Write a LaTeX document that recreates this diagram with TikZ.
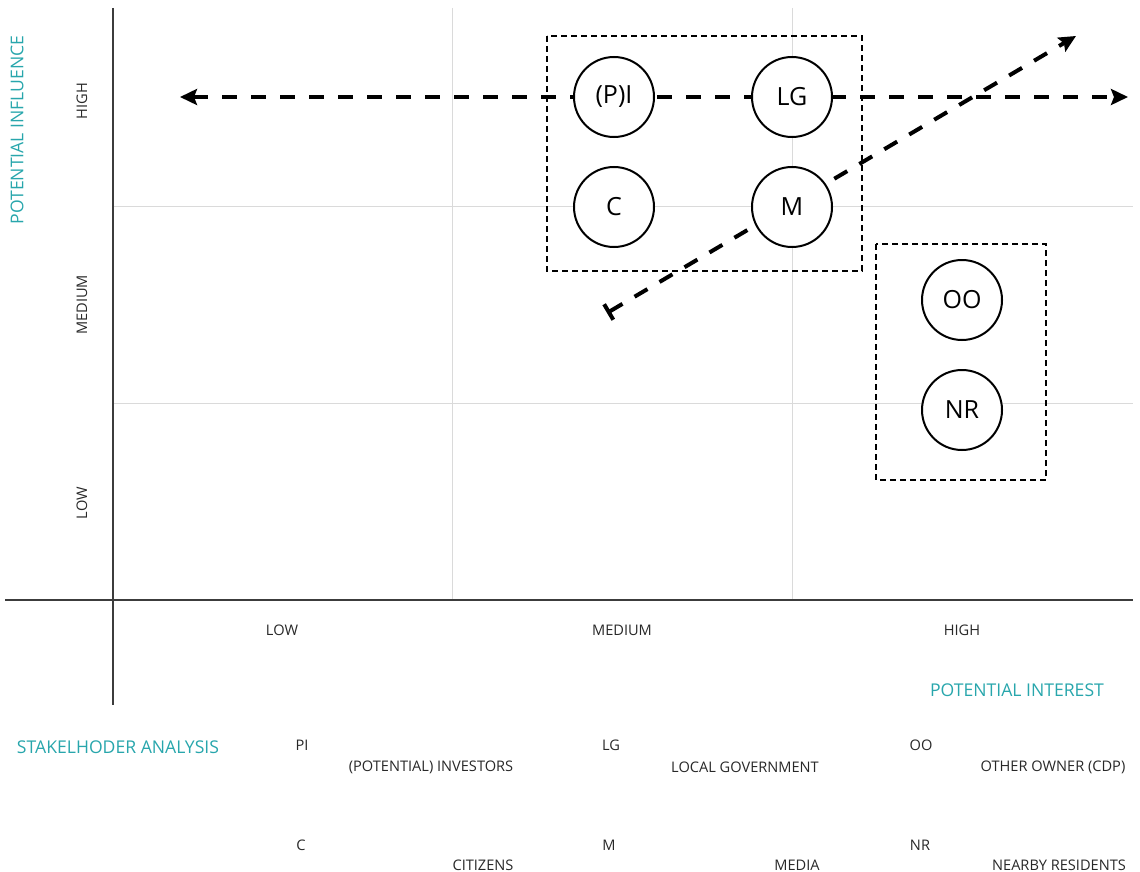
\documentclass[tikz,border=0pt]{standalone}
\usepackage{fontspec}
\setmainfont{Open Sans}
\usepackage{xcolor}
\usepackage{tikz}
\definecolor{axisgray}{RGB}{60, 60, 60}
\definecolor{gridgray}{RGB}{218, 218, 218}
\definecolor{tealtext}{RGB}{40, 166, 172}
\definecolor{textgray}{RGB}{40, 40, 40}
\usetikzlibrary{arrows.meta,positioning}

\begin{document}
\begin{tikzpicture}[
    x=0.5pt, y=-0.5pt,
    stake/.style={
        circle,
        draw=black,
        fill=white,
        line width=1pt,
        minimum size=40pt,
        inner sep=0pt,
        font=\fontsize{12.5}{14}\selectfont
    },
    level/.style={font=\fontsize{7.3}{8}\selectfont, text=textgray},
    title/.style={font=\fontsize{8.8}{10}\selectfont, text=tealtext},
    group/.style={draw=black, line width=1.1pt, dash pattern=on 3pt off 2pt},
    tip/.style={-{Stealth[length=8.5pt,width=8pt,inset=1.5pt]}},
    arrow/.style={line width=2pt, dash pattern=on 7.5pt off 7pt},
    grid line/.style={draw=gridgray, line width=0.5pt}
]
    \useasboundingbox (0,0) rectangle (1140,872);
    % Grid
    \draw[grid line] (452,8) -- (452,600);
    \draw[grid line] (792,8) -- (792,600);
    \draw[grid line] (113,206) -- (1133,206);
    \draw[grid line] (113,403) -- (1133,403);
    % Axes
    \draw[axisgray, line width=1pt] (113,8) -- (113,705);
    \draw[axisgray, line width=1pt] (5,600) -- (1133,600);

    % Axis labels
    \node[title, rotate=90] (influence) at (17,130) {POTENTIAL INFLUENCE};
    \node[level, rotate=90] (yhigh) at (82,101) {HIGH};
    \node[level, rotate=90] (ymed) at (82,305) {MEDIUM};
    \node[level, rotate=90] (ylow) at (82,503) {LOW};
    \node[level] (xlow) at (282,630) {LOW};
    \node[level] (xmed) at (622,630) {MEDIUM};
    \node[level] (xhigh) at (962,630) {HIGH};
    \node[title] (interest) at (1017,690) {POTENTIAL INTEREST};

    % Groups
    \draw[group] (547,36) rectangle (862,271);
    \draw[group] (876,244) rectangle (1046,480);

    % Trend arrows
    \coordinate (left end) at (180,97);
    \coordinate (right end) at (1128,97);
    \coordinate (trend start) at (607,313);
    \coordinate (trend end) at (1076,36);
    \draw[arrow, {Stealth[length=8.5pt,width=8pt,inset=1.5pt]}-{Stealth[length=8.5pt,width=8pt,inset=1.5pt]}] (left end) -- (right end);
    \draw[arrow, {Bar[width=9pt]}-{Stealth[length=8.5pt,width=8pt,inset=1.5pt]}] (trend start) -- (trend end);

    % Stakeholders
    \node[stake] (pi) at (614,97) {(P)I};
    \node[stake] (lg) at (792,97) {LG};
    \node[stake] (c) at (614,207) {C};
    \node[stake] (m) at (792,207) {M};
    \node[stake] (oo) at (962,300) {OO};
    \node[stake] (nr) at (962,410) {NR};

    % Legend
    \node[title] (legend) at (118,747) {STAKELHODER ANALYSIS};
    \node[level] (kpi) at (302,745) {PI};
    \node[level] (npi) at (431,767) {(POTENTIAL) INVESTORS};
    \node[level] (kc) at (301,845) {C};
    \node[level] (nc) at (483,865) {CITIZENS};
    \node[level] (klg) at (611,745) {LG};
    \node[level] (nlg) at (745,767) {LOCAL GOVERNMENT};
    \node[level] (km) at (609,845) {M};
    \node[level] (nm) at (797,865) {MEDIA};
    \node[level] (koo) at (921,745) {OO};
    \node[level] (noo) at (1053,767) {OTHER OWNER (CDP)};
    \node[level] (knr) at (920,845) {NR};
    \node[level] (nnr) at (1059,865) {NEARBY RESIDENTS};
\end{tikzpicture}
\end{document}
